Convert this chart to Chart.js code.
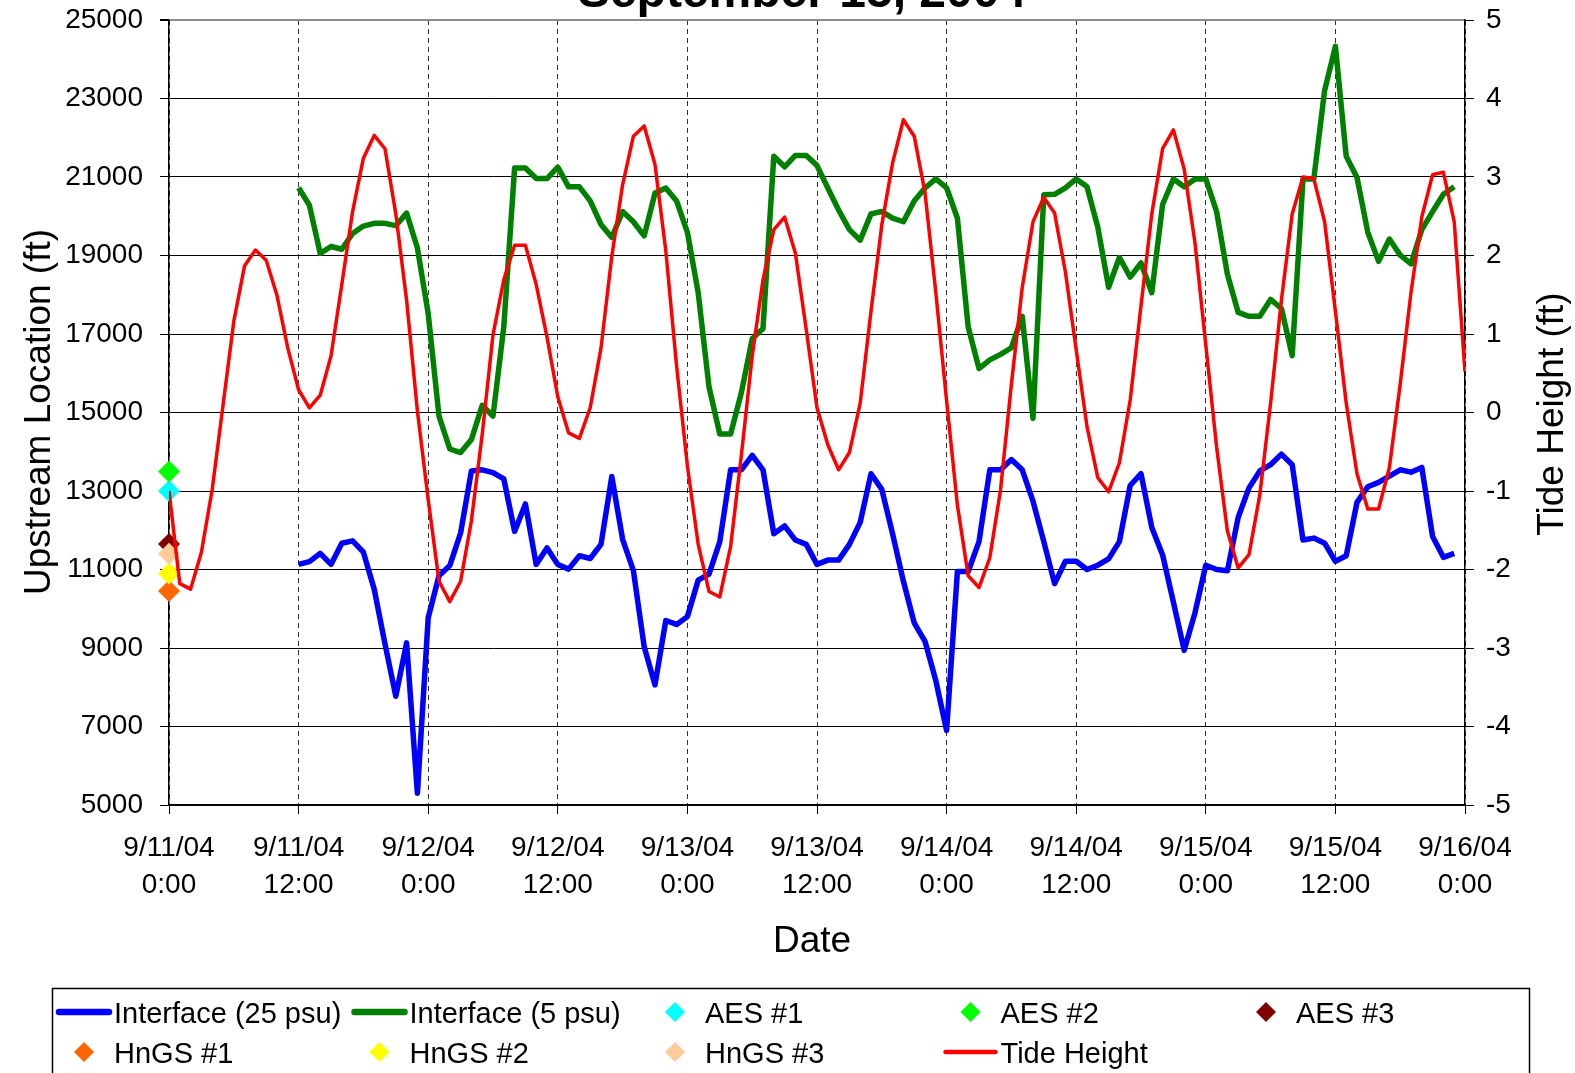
<!DOCTYPE html>
<html>
<head>
<meta charset="utf-8">
<script src="https://cdn.jsdelivr.net/npm/chart.js@4.4.1/dist/chart.umd.min.js"></script>
<style>
  html, body { margin: 0; padding: 0; background: #fff; }
  #wrap { width: 1575px; height: 1073px; }
</style>
</head>
<body>
<div id="wrap"><canvas id="tideChart" width="1575" height="1073"></canvas></div>
<script>
// hours after 9/11/04 0:00
const dateTicks = ['9/11/04', '9/11/04', '9/12/04', '9/12/04', '9/13/04', '9/13/04',
                   '9/14/04', '9/14/04', '9/15/04', '9/15/04', '9/16/04'];
const timeTicks = ['0:00', '12:00', '0:00', '12:00', '0:00', '12:00',
                   '0:00', '12:00', '0:00', '12:00', '0:00'];

// interface series start at hour 12, one value per hour
const interfaceStartHour = 12;
const interface25 = [
  11130, 11200, 11410, 11130, 11670, 11730, 11440, 10500, 9100, 7770, 9130, 5300,
  9770, 10840, 11100, 11930, 13510, 13540, 13470, 13310, 11970, 12670, 11130, 11550,
  11130, 11010, 11350, 11280, 11640, 13370, 11770, 10970, 9030, 8060, 9700, 9600,
  9800, 10730, 10880, 11710, 13540, 13540, 13910, 13540, 11910, 12110, 11750, 11640,
  11130, 11240, 11240, 11640, 12200, 13440, 13040, 11910, 10700, 9640, 9170, 8170,
  6900, 10950, 10950, 11710, 13540, 13540, 13800, 13540, 12740, 11710, 10640, 11210,
  11210, 11000, 11110, 11270, 11710, 13140, 13440, 12070, 11370, 10170, 8940, 9900,
  11110, 11000, 10970, 12330, 13080, 13510, 13670, 13940, 13670, 11750, 11800, 11670,
  11210, 11350, 12710, 13110, 13220, 13380, 13540, 13480, 13600, 11840, 11310, 11410
];
const interface5 = [
  20725, 20280, 19055, 19230, 19160, 19560, 19750, 19820, 19820, 19760, 20080, 19190,
  17520, 14910, 14070, 13980, 14310, 15180, 14910, 17180, 21230, 21230, 20960, 20960,
  21250, 20750, 20750, 20390, 19790, 19460, 20120, 19860, 19500, 20590, 20720, 20390,
  19590, 18050, 15650, 14450, 14450, 15510, 16880, 17140, 21530, 21260, 21550, 21550,
  21290, 20720, 20160, 19660, 19390, 20060, 20120, 19950, 19860, 20390, 20720, 20950,
  20725, 19950, 17180, 16120, 16340, 16480, 16650, 17450, 14850, 20550, 20560, 20725,
  20950, 20750, 19720, 18190, 18950, 18450, 18810, 18050, 20300, 20950, 20750, 20950,
  20950, 20120, 18520, 17550, 17450, 17450, 17880, 17650, 16450, 20950, 20950, 23200,
  24330, 21530, 20990, 19590, 18850, 19420, 19010, 18790, 19660, 20120, 20560, 20750
];

// tide height (ft), hourly from hour 0
const tideHeight = [
  -1.0, -2.18, -2.25, -1.78, -0.98, 0.09, 1.16, 1.87, 2.07, 1.94, 1.49, 0.82,
  0.29, 0.06, 0.22, 0.72, 1.63, 2.56, 3.24, 3.53, 3.36, 2.53, 1.43, 0.02,
  -1.11, -2.15, -2.41, -2.15, -1.38, -0.28, 0.99, 1.69, 2.13, 2.13, 1.63, 0.96,
  0.2, -0.26, -0.33, 0.06, 0.82, 1.99, 2.90, 3.52, 3.65, 3.16, 2.06, 0.59,
  -0.68, -1.68, -2.28, -2.35, -1.71, -0.54, 0.72, 1.69, 2.33, 2.49, 2.03, 1.06,
  0.06, -0.41, -0.73, -0.51, 0.12, 1.29, 2.39, 3.18, 3.73, 3.52, 2.80, 1.53,
  0.15, -1.18, -2.08, -2.23, -1.85, -0.98, 0.36, 1.59, 2.43, 2.74, 2.54, 1.79,
  0.80, -0.18, -0.83, -1.01, -0.64, 0.16, 1.36, 2.53, 3.36, 3.60, 3.10, 2.16,
  0.86, -0.44, -1.51, -1.98, -1.81, -1.05, 0.12, 1.43, 2.53, 3.00, 2.98, 2.43,
  1.29, 0.12, -0.78, -1.23, -1.23, -0.70, 0.36, 1.53, 2.49, 3.03, 3.06, 2.43,
  0.52
];

// single survey readings at 9/11/04 0:00
const surveyLabels = ['AES #1', 'AES #2', 'AES #3', 'HnGS #1', 'HnGS #2', 'HnGS #3'];
const surveyValues = [13000, 13500, 11650, 10450, 10900, 11400];
const surveyColors = ['#00ffff', '#00ff00', '#800000', '#ff6600', '#ffff00', '#ffcc99'];
const surveyHour = 0;

const FONT = '"Liberation Sans", Arial, sans-serif';

function hourly(values, start) {
  return values.map((v, i) => ({ x: start + i, y: v }));
}

const surveySets = surveyLabels.map((label, i) => ({
  label: label,
  data: [{ x: surveyHour, y: surveyValues[i] }],
  showLine: false,
  pointStyle: 'rectRot',
  pointRadius: 11,
  pointBorderWidth: 0,
  backgroundColor: surveyColors[i],
  borderColor: surveyColors[i],
  clip: false,
  order: 8 - i,
  yAxisID: 'y'
}));

const datasets = [
  { label: 'Interface (25 psu)', data: hourly(interface25, interfaceStartHour),
    borderColor: '#0000ff', borderWidth: 5.5, order: 11, yAxisID: 'y' },
  { label: 'Interface (5 psu)', data: hourly(interface5, interfaceStartHour),
    borderColor: '#008000', borderWidth: 5.5, order: 10, yAxisID: 'y' },
  ...surveySets,
  { label: 'Tide Height', data: hourly(tideHeight, 0),
    borderColor: '#ff0000', borderWidth: 3.5, order: 0, yAxisID: 'y2' }
];
datasets.forEach(ds => {
  if (ds.showLine !== false) {
    ds.pointRadius = 0;
    ds.tension = 0;
    ds.fill = false;
    ds.borderJoinStyle = 'round';
  }
});

// title, axis titles and the boxed two-row legend
const decorations = {
  id: 'decorations',
  afterDraw(chart) {
    const ctx = chart.ctx;
    ctx.save();
    ctx.fillStyle = '#000';

    ctx.font = 'bold 48px ' + FONT;
    ctx.textAlign = 'center';
    ctx.textBaseline = 'alphabetic';
    ctx.fillText('September 15, 2004', 802, 7);

    ctx.font = '37px ' + FONT;
    ctx.fillText('Date', 812, 952);

    ctx.save();
    ctx.translate(50, 412);
    ctx.rotate(-Math.PI / 2);
    ctx.fillText('Upstream Location (ft)', 0, 0);
    ctx.restore();

    ctx.save();
    ctx.translate(1563, 414);
    ctx.rotate(-Math.PI / 2);
    ctx.fillText('Tide Height (ft)', 0, 0);
    ctx.restore();

    // legend
    ctx.strokeStyle = '#000';
    ctx.lineWidth = 1.5;
    ctx.strokeRect(52.5, 988.5, 1477, 120);
    ctx.font = '29px ' + FONT;
    ctx.textAlign = 'left';
    chart.data.datasets.forEach((ds, i) => {
      const col = i % 5;
      const row = Math.floor(i / 5);
      const x0 = 57 + col * 295.5;
      const cy = row === 0 ? 1012 : 1052;
      if (ds.showLine === false) {
        const r = 10;
        ctx.fillStyle = ds.backgroundColor;
        ctx.beginPath();
        ctx.moveTo(x0 + 27 - r, cy);
        ctx.lineTo(x0 + 27, cy - r);
        ctx.lineTo(x0 + 27 + r, cy);
        ctx.lineTo(x0 + 27, cy + r);
        ctx.closePath();
        ctx.fill();
      } else {
        ctx.strokeStyle = ds.borderColor;
        ctx.lineWidth = ds.borderWidth + 1;
        ctx.lineCap = 'round';
        ctx.beginPath();
        ctx.moveTo(x0 + 2, cy);
        ctx.lineTo(x0 + 52, cy);
        ctx.stroke();
      }
      ctx.fillStyle = '#000';
      ctx.fillText(ds.label, x0 + 57, cy + 11);
    });
    ctx.restore();
  }
};

function fixVertical(width) {
  return s => {
    s.width = width;
    s.paddingTop = 0;
    s.paddingBottom = 0;
  };
}

new Chart(document.getElementById('tideChart'), {
  type: 'line',
  data: { datasets: datasets },
  plugins: [decorations],
  options: {
    responsive: false,
    animation: false,
    events: [],
    layout: { padding: { top: 20, left: 0, right: 0, bottom: 0 } },
    plugins: {
      legend: { display: false },
      tooltip: { enabled: false },
      title: { display: false }
    },
    scales: {
      x: {
        type: 'linear',
        min: 0,
        max: 120,
        afterFit: s => { s.height = 268; s.paddingLeft = 0; s.paddingRight = 0; },
        ticks: {
          stepSize: 12,
          autoSkip: false,
          maxRotation: 0,
          padding: 16,
          color: '#000',
          font: { family: FONT, size: 28, lineHeight: 1.307 },
          callback: v => [dateTicks[v / 12], timeTicks[v / 12]]
        },
        grid: { color: '#333', lineWidth: 1, tickLength: 9, tickColor: '#000' },
        border: { color: '#000', width: 1.5, dash: [5, 4] }
      },
      y: {
        position: 'left',
        min: 5000,
        max: 25000,
        afterFit: fixVertical(169),
        ticks: {
          stepSize: 2000,
          padding: 17,
          color: '#000',
          font: { family: FONT, size: 28 },
          callback: v => String(v)
        },
        grid: {
          color: c => (c.tick && c.tick.value === 25000 ? '#8c8c8c' : '#000'),
          lineWidth: c => (c.tick && c.tick.value === 25000 ? 2 : 1),
          tickLength: 9,
          tickColor: '#000'
        },
        border: { color: '#000', width: 1.5 }
      },
      y2: {
        position: 'right',
        min: -5,
        max: 5,
        afterFit: fixVertical(110),
        ticks: {
          stepSize: 1,
          padding: 12,
          color: '#000',
          font: { family: FONT, size: 28 },
          callback: v => String(v)
        },
        grid: { drawOnChartArea: false, tickLength: 9, tickColor: '#000' },
        border: { color: '#000', width: 1.5 }
      }
    }
  }
});
</script>
</body>
</html>
